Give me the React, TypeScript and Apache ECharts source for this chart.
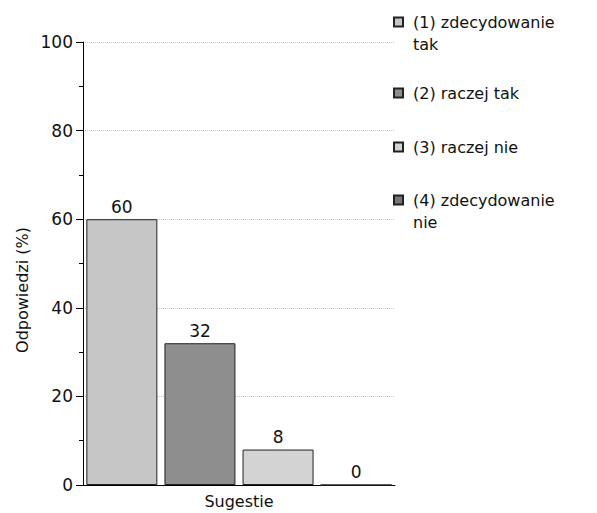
import React, { useEffect, useRef } from "react";
import * as echarts from "echarts";

const categories = ["Sugestie"];
const seriesNames = [
  "(1) zdecydowanie tak",
  "(2) raczej tak",
  "(3) raczej nie",
  "(4) zdecydowanie nie",
];
const seriesValues = [60, 32, 8, 0];
const seriesColors = ["#c6c6c6", "#8e8e8e", "#d3d3d3", "#777777"];
const yTicks = [0, 20, 40, 60, 80, 100];
const legendCenters = [22, 93, 147, 200];

const FONT = "DejaVu Sans";

export default function App() {
  const ref = useRef<HTMLDivElement>(null);
  useEffect(() => {
    if (!ref.current) return;
    const chart = echarts.init(ref.current, undefined, { renderer: "svg" });
    const L = 22;
    const legends = seriesNames.map((name, i) => {
      const twoLine = /zdecydowanie/.test(name);
      const top = twoLine ? legendCenters[i] - 1.5 * L : legendCenters[i] - L / 2;
      return {
        orient: "vertical",
        left: 393,
        top,
        padding: 0,
        itemWidth: 9,
        itemHeight: 9,
        icon: "rect",
        selectedMode: false,
        data: [name],
        formatter: (n: string) =>
          /zdecydowanie/.test(n) ? "\n" + n.replace(/^(\(\d\) zdecydowanie) /, "$1\n") : n,
        textStyle: {
          fontFamily: FONT,
          fontSize: 16,
          color: "#111",
          lineHeight: L,
          padding: [0, 0, 0, 5],
        },
      };
    });
    chart.setOption({
      animation: false,
      backgroundColor: "#fff",
      textStyle: { fontFamily: FONT },
      grid: { left: 83, right: 202, top: 42, bottom: 28 },
      legend: legends,
      xAxis: {
        type: "category",
        data: categories,
        axisLine: { lineStyle: { color: "#000", width: 1 } },
        axisTick: { alignWithLabel: true, length: 5, lineStyle: { color: "#000" } },
        axisLabel: { fontFamily: FONT, fontSize: 16, color: "#111", margin: 8 },
      },
      yAxis: {
        type: "value",
        min: yTicks[0],
        max: yTicks[yTicks.length - 1],
        interval: 20,
        axisLine: { show: true, lineStyle: { color: "#000", width: 1 } },
        axisTick: { show: true, length: 7, lineStyle: { color: "#000" } },
        minorTick: { show: true, splitNumber: 2, length: 4, lineStyle: { color: "#000" } },
        axisLabel: { fontFamily: FONT, fontSize: 17, color: "#111", margin: 10 },
        splitLine: { show: true, lineStyle: { type: "dotted", color: "#c4c4c4" } },
      },
      graphic: [
        {
          type: "text",
          x: 22,
          y: 290,
          rotation: Math.PI / 2,
          style: {
            text: "Odpowiedzi (%)",
            fontFamily: FONT,
            fontSize: 16,
            fill: "#111",
            textAlign: "center",
            textVerticalAlign: "middle",
          },
        },
      ],
      series: seriesNames.map((name, i) => ({
        type: "bar",
        name,
        data: [seriesValues[i]],
        barWidth: 71,
        barGap: "10%",
        itemStyle: { color: seriesColors[i], borderColor: "#222", borderWidth: 1 },
        label: {
          show: true,
          position: "top",
          fontFamily: FONT,
          fontSize: 17,
          color: "#111",
          distance: 4,
        },
      })),
    });
    return () => chart.dispose();
  }, []);
  return (
    <div
      ref={ref}
      style={{ position: "fixed", left: 0, top: 0, width: 597, height: 513 }}
    />
  );
}
